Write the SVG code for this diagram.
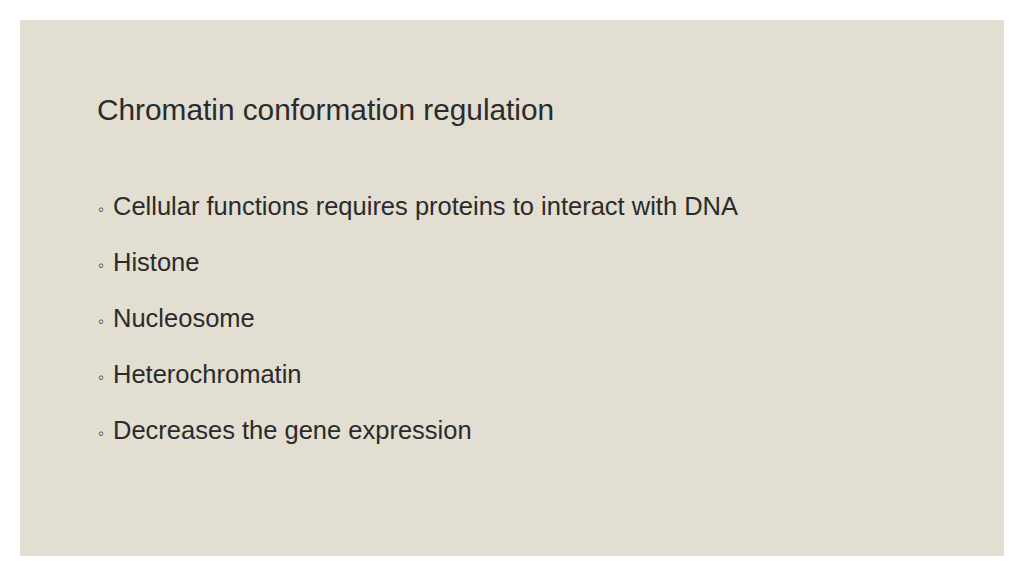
<svg xmlns="http://www.w3.org/2000/svg" width="1024" height="576" viewBox="0 0 1024 576">
<style>
.t{font-family:"Liberation Sans",Arial,sans-serif;fill:#2b2b2b}
.b{font-size:25.5px}
.d{font-size:17px}
</style>
<rect width="1024" height="576" fill="#ffffff"/>
<rect x="20" y="20" width="984" height="536" fill="#e2ded2"/>
<text class="t" x="97" y="120" font-size="29.8">Chromatin conformation regulation</text>
<g class="t b">
<text x="98" y="215"><tspan class="d">◦</tspan><tspan x="113">Cellular functions requires proteins to interact with DNA</tspan></text>
<text x="98" y="271"><tspan class="d">◦</tspan><tspan x="113">Histone</tspan></text>
<text x="98" y="327"><tspan class="d">◦</tspan><tspan x="113">Nucleosome</tspan></text>
<text x="98" y="383"><tspan class="d">◦</tspan><tspan x="113">Heterochromatin</tspan></text>
<text x="98" y="439"><tspan class="d">◦</tspan><tspan x="113">Decreases the gene expression</tspan></text>
</g>
</svg>
